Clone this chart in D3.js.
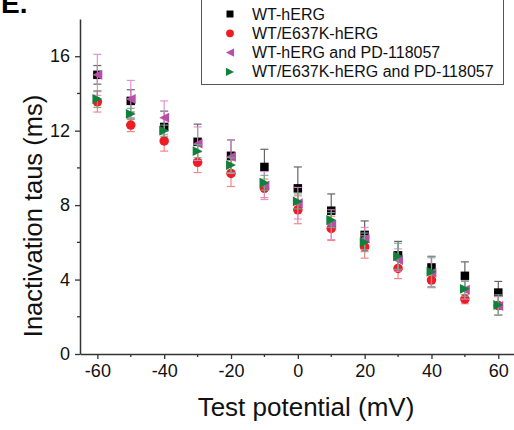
<!DOCTYPE html>
<html>
<head>
<meta charset="utf-8">
<script src="https://cdn.jsdelivr.net/npm/d3@7"></script>
<style>
  body { margin: 0; background: #fff; }
  text { font-family: "Liberation Sans", Arial, sans-serif; }
</style>
</head>
<body>
<div id="chart"></div>
<script>
// Test potentials (mV)
const potentials = [-60, -50, -40, -30, -20, -10, 0, 10, 20, 30, 40, 50, 60];

// Inactivation taus (ms), mean and error per series
const wtMean = [15.0, 13.6, 12.2, 11.4, 10.65, 10.05, 8.9, 7.7, 6.4, 5.3, 4.65, 4.2, 3.3];
const wtErr = [0.5, 0.6, 0.85, 0.95, 0.85, 0.95, 1.15, 0.9, 0.75, 0.75, 0.6, 0.75, 0.6];

const e637kMean = [13.55, 12.3, 11.45, 10.3, 9.7, 8.9, 7.75, 6.75, 5.75, 4.6, 3.97, 2.95, 2.6];
const e637kErr = [0.55, 0.35, 0.55, 0.55, 0.7, 0.5, 0.75, 0.65, 0.6, 0.55, 0.4, 0.25, 0.5];

const wtPdMean = [15.0, 13.7, 12.7, 11.3, 10.6, 9.05, 8.1, 6.95, 6.2, 5.05, 4.37, 3.45, 2.58];
const wtPdErr = [1.1, 1.0, 0.9, 0.9, 0.9, 0.75, 0.85, 0.8, 0.6, 0.6, 0.8, 0.5, 0.5];

const e637kPdMean = [13.7, 12.9, 12.0, 10.9, 10.15, 9.2, 8.2, 7.2, 6.0, 5.25, 4.42, 3.5, 2.63];
const e637kPdErr = [0.45, 0.3, 0.3, 0.35, 0.4, 0.4, 0.4, 0.4, 0.5, 0.7, 0.8, 0.4, 0.55];

const seriesNames = ['WT-hERG', 'WT/E637K-hERG', 'WT-hERG and PD-118057', 'WT/E637K-hERG and PD-118057'];

const xTicks = [-60, -40, -20, 0, 20, 40, 60];
const yTicks = [0, 4, 8, 12, 16];

const series = [
    { name: seriesNames[0], mean: wtMean, err: wtErr, shape: 'square', color: '#000000', errColor: '#555555' },
    { name: seriesNames[1], mean: e637kMean, err: e637kErr, shape: 'circle', color: '#ee1d24', errColor: '#f27b7b' },
    { name: seriesNames[2], mean: wtPdMean, err: wtPdErr, shape: 'left', color: '#b84ea8', errColor: '#dc8ad2' },
    { name: seriesNames[3], mean: e637kPdMean, err: e637kPdErr, shape: 'right', color: '#10803a', errColor: '#6aae84' }
];

const width = 514;
const height = 430;

const svg = d3.select('#chart').append('svg')
    .attr('width', width)
    .attr('height', height);

const x = d3.scaleLinear().domain([-65.2, 65]).range([80, 515]);
const y = d3.scaleLinear().domain([0, 18]).range([354, 19]);

// marker path drawn around (0,0)
function markerPath(shape, s) {
    if (shape === 'square') return `M${-s/2},${-s/2}h${s}v${s}h${-s}Z`;
    if (shape === 'circle') {
        const r = s * 0.56;
        return `M${r},0A${r},${r} 0 1,1 ${-r},0A${r},${r} 0 1,1 ${r},0Z`;
    }
    const h = s * 0.58;
    if (shape === 'left') return `M${-h},0L${h},${-h}L${h},${h}Z`;
    return `M${h},0L${-h},${-h}L${-h},${h}Z`;
}

// axes
const axisColor = '#333';
const xAxis = svg.append('g')
    .attr('transform', `translate(0,${y(0)})`)
    .call(d3.axisBottom(x).tickValues(xTicks).tickSize(5).tickSizeOuter(0).tickPadding(5)
        .tickFormat(d => String(d)));
xAxis.selectAll('text').style('font-size', '18px').attr('fill', '#111');

const yAxis = svg.append('g')
    .attr('transform', `translate(${x.range()[0]},0)`)
    .call(d3.axisLeft(y).tickValues(yTicks).tickSize(5).tickSizeOuter(0).tickPadding(5));
yAxis.selectAll('text').style('font-size', '18px').attr('fill', '#111');

[xAxis, yAxis].forEach(a => {
    a.select('.domain').attr('stroke', axisColor).attr('stroke-width', 1.5);
    a.selectAll('.tick line').attr('stroke', axisColor).attr('stroke-width', 1.3);
});

// minor ticks
svg.append('g').selectAll('line')
    .data(d3.range(-50, 61, 20))
    .enter().append('line')
    .attr('x1', d => x(d)).attr('x2', d => x(d))
    .attr('y1', y(0)).attr('y2', y(0) + 3)
    .attr('stroke', axisColor).attr('stroke-width', 1.3);

svg.append('g').selectAll('line')
    .data(d3.range(2, 18, 4))
    .enter().append('line')
    .attr('x1', x.range()[0] - 3).attr('x2', x.range()[0])
    .attr('y1', d => y(d)).attr('y2', d => y(d))
    .attr('stroke', axisColor).attr('stroke-width', 1.3);

// data: error bars then markers per series
const capW = 4;
series.forEach(s => {
    const pts = potentials.map((p, i) => ({ p, m: s.mean[i], e: s.err[i] }));
    const g = svg.append('g');
    const eb = g.selectAll('.eb').data(pts).enter().append('g')
        .attr('stroke', s.errColor).attr('stroke-width', 1.2).attr('opacity', 0.9);
    eb.append('line')
        .attr('x1', d => x(d.p)).attr('x2', d => x(d.p))
        .attr('y1', d => y(d.m - d.e)).attr('y2', d => y(d.m + d.e));
    eb.append('line')
        .attr('x1', d => x(d.p) - capW).attr('x2', d => x(d.p) + capW)
        .attr('y1', d => y(d.m + d.e)).attr('y2', d => y(d.m + d.e));
    eb.append('line')
        .attr('x1', d => x(d.p) - capW).attr('x2', d => x(d.p) + capW)
        .attr('y1', d => y(d.m - d.e)).attr('y2', d => y(d.m - d.e));
    g.selectAll('.pt').data(pts).enter().append('path')
        .attr('transform', d => `translate(${x(d.p)},${y(d.m)})`)
        .attr('d', markerPath(s.shape, 8.5))
        .attr('fill', s.color);
});

// axis titles
svg.append('text')
    .attr('x', 306).attr('y', 416)
    .attr('text-anchor', 'middle')
    .style('font-size', '26px').attr('fill', '#111')
    .text('Test potential (mV)');

svg.append('text')
    .attr('transform', 'translate(42,216) rotate(-90)')
    .attr('text-anchor', 'middle')
    .style('font-size', '25.5px').attr('fill', '#111')
    .text('Inactivation taus (ms)');

// panel letter
svg.append('text')
    .attr('x', 1).attr('y', 13)
    .style('font-size', '28px').style('font-weight', 'bold')
    .text('E.');

// legend
const legend = svg.append('g');
legend.append('rect')
    .attr('x', 201.5).attr('y', -1).attr('width', 302).attr('height', 85.5)
    .attr('fill', '#fff').attr('stroke', '#555').attr('stroke-width', 1);

series.forEach((s, i) => {
    const cy = 14 + i * 19.3;
    legend.append('path')
        .attr('transform', `translate(230,${cy})`)
        .attr('d', markerPath(s.shape, 7))
        .attr('fill', s.color);
    legend.append('text')
        .attr('x', 252).attr('y', cy + 5.5)
        .style('font-size', '16px').attr('fill', '#111')
        .text(s.name);
});
</script>
</body>
</html>
